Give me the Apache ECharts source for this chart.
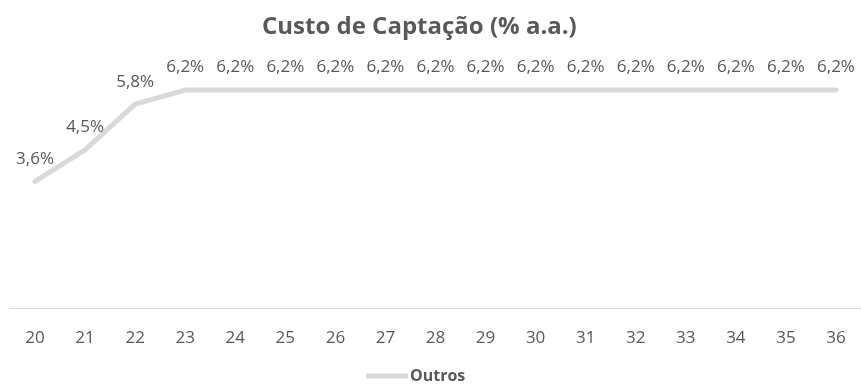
<!DOCTYPE html>
<html>
<head>
<meta charset="utf-8">
<script src="https://cdn.jsdelivr.net/npm/echarts@6/dist/echarts.min.js"></script>
<style>
  html, body { margin: 0; padding: 0; background: #ffffff; }
  #chart { width: 861px; height: 391px; }
</style>
</head>
<body>
<div id="chart"></div>
<script>
// Funding cost by year (% per year)
const years = ['20', '21', '22', '23', '24', '25', '26', '27', '28', '29', '30', '31', '32', '33', '34', '35', '36'];
const outros = [3.6, 4.5, 5.8, 6.2, 6.2, 6.2, 6.2, 6.2, 6.2, 6.2, 6.2, 6.2, 6.2, 6.2, 6.2, 6.2, 6.2];

const textColor = '#595959';
const fontFamily = '"Open Sans", sans-serif';

const chart = echarts.init(document.getElementById('chart'), null, { renderer: 'canvas' });
chart.setOption({
  animation: false,
  backgroundColor: '#ffffff',
  title: {
    text: 'Custo de Captação (% a.a.)',
    left: 257,
    top: 10,
    textStyle: { color: textColor, fontSize: 24, fontWeight: 'bold', fontFamily: fontFamily }
  },
  legend: {
    top: 368,
    left: 366,
    itemWidth: 42,
    itemHeight: 5,
    itemGap: 4,
    icon: 'rect',
    data: ['Outros'],
    padding: 0,
    textStyle: { color: textColor, fontSize: 16, fontWeight: 'bold', fontFamily: fontFamily, padding: [0, 0, 0, -3] }
  },
  grid: { left: 10, top: 62, width: 853, bottom: 83, containLabel: false },
  xAxis: {
    type: 'category',
    data: years,
    boundaryGap: true,
    axisLine: { show: true, lineStyle: { color: '#d9d9d9', width: 1 } },
    axisTick: { show: false },
    axisLabel: { color: textColor, fontSize: 17, fontFamily: fontFamily, margin: 22 }
  },
  yAxis: {
    type: 'value',
    min: 0,
    max: 7,
    interval: 1,
    show: false,
    splitLine: { show: false }
  },
  series: [{
    name: 'Outros',
    type: 'line',
    data: outros,
    symbol: 'circle',
    symbolSize: 0,
    showSymbol: true,
    color: '#d9d9d9',
    lineStyle: { color: '#d9d9d9', width: 5, cap: 'round', join: 'round' },
    label: {
      show: true,
      position: 'top',
      distance: 14,
      color: textColor,
      fontSize: 17,
      fontFamily: fontFamily,
      formatter: p => p.value.toFixed(1).replace('.', ',') + '%'
    }
  }]
});
</script>
</body>
</html>
